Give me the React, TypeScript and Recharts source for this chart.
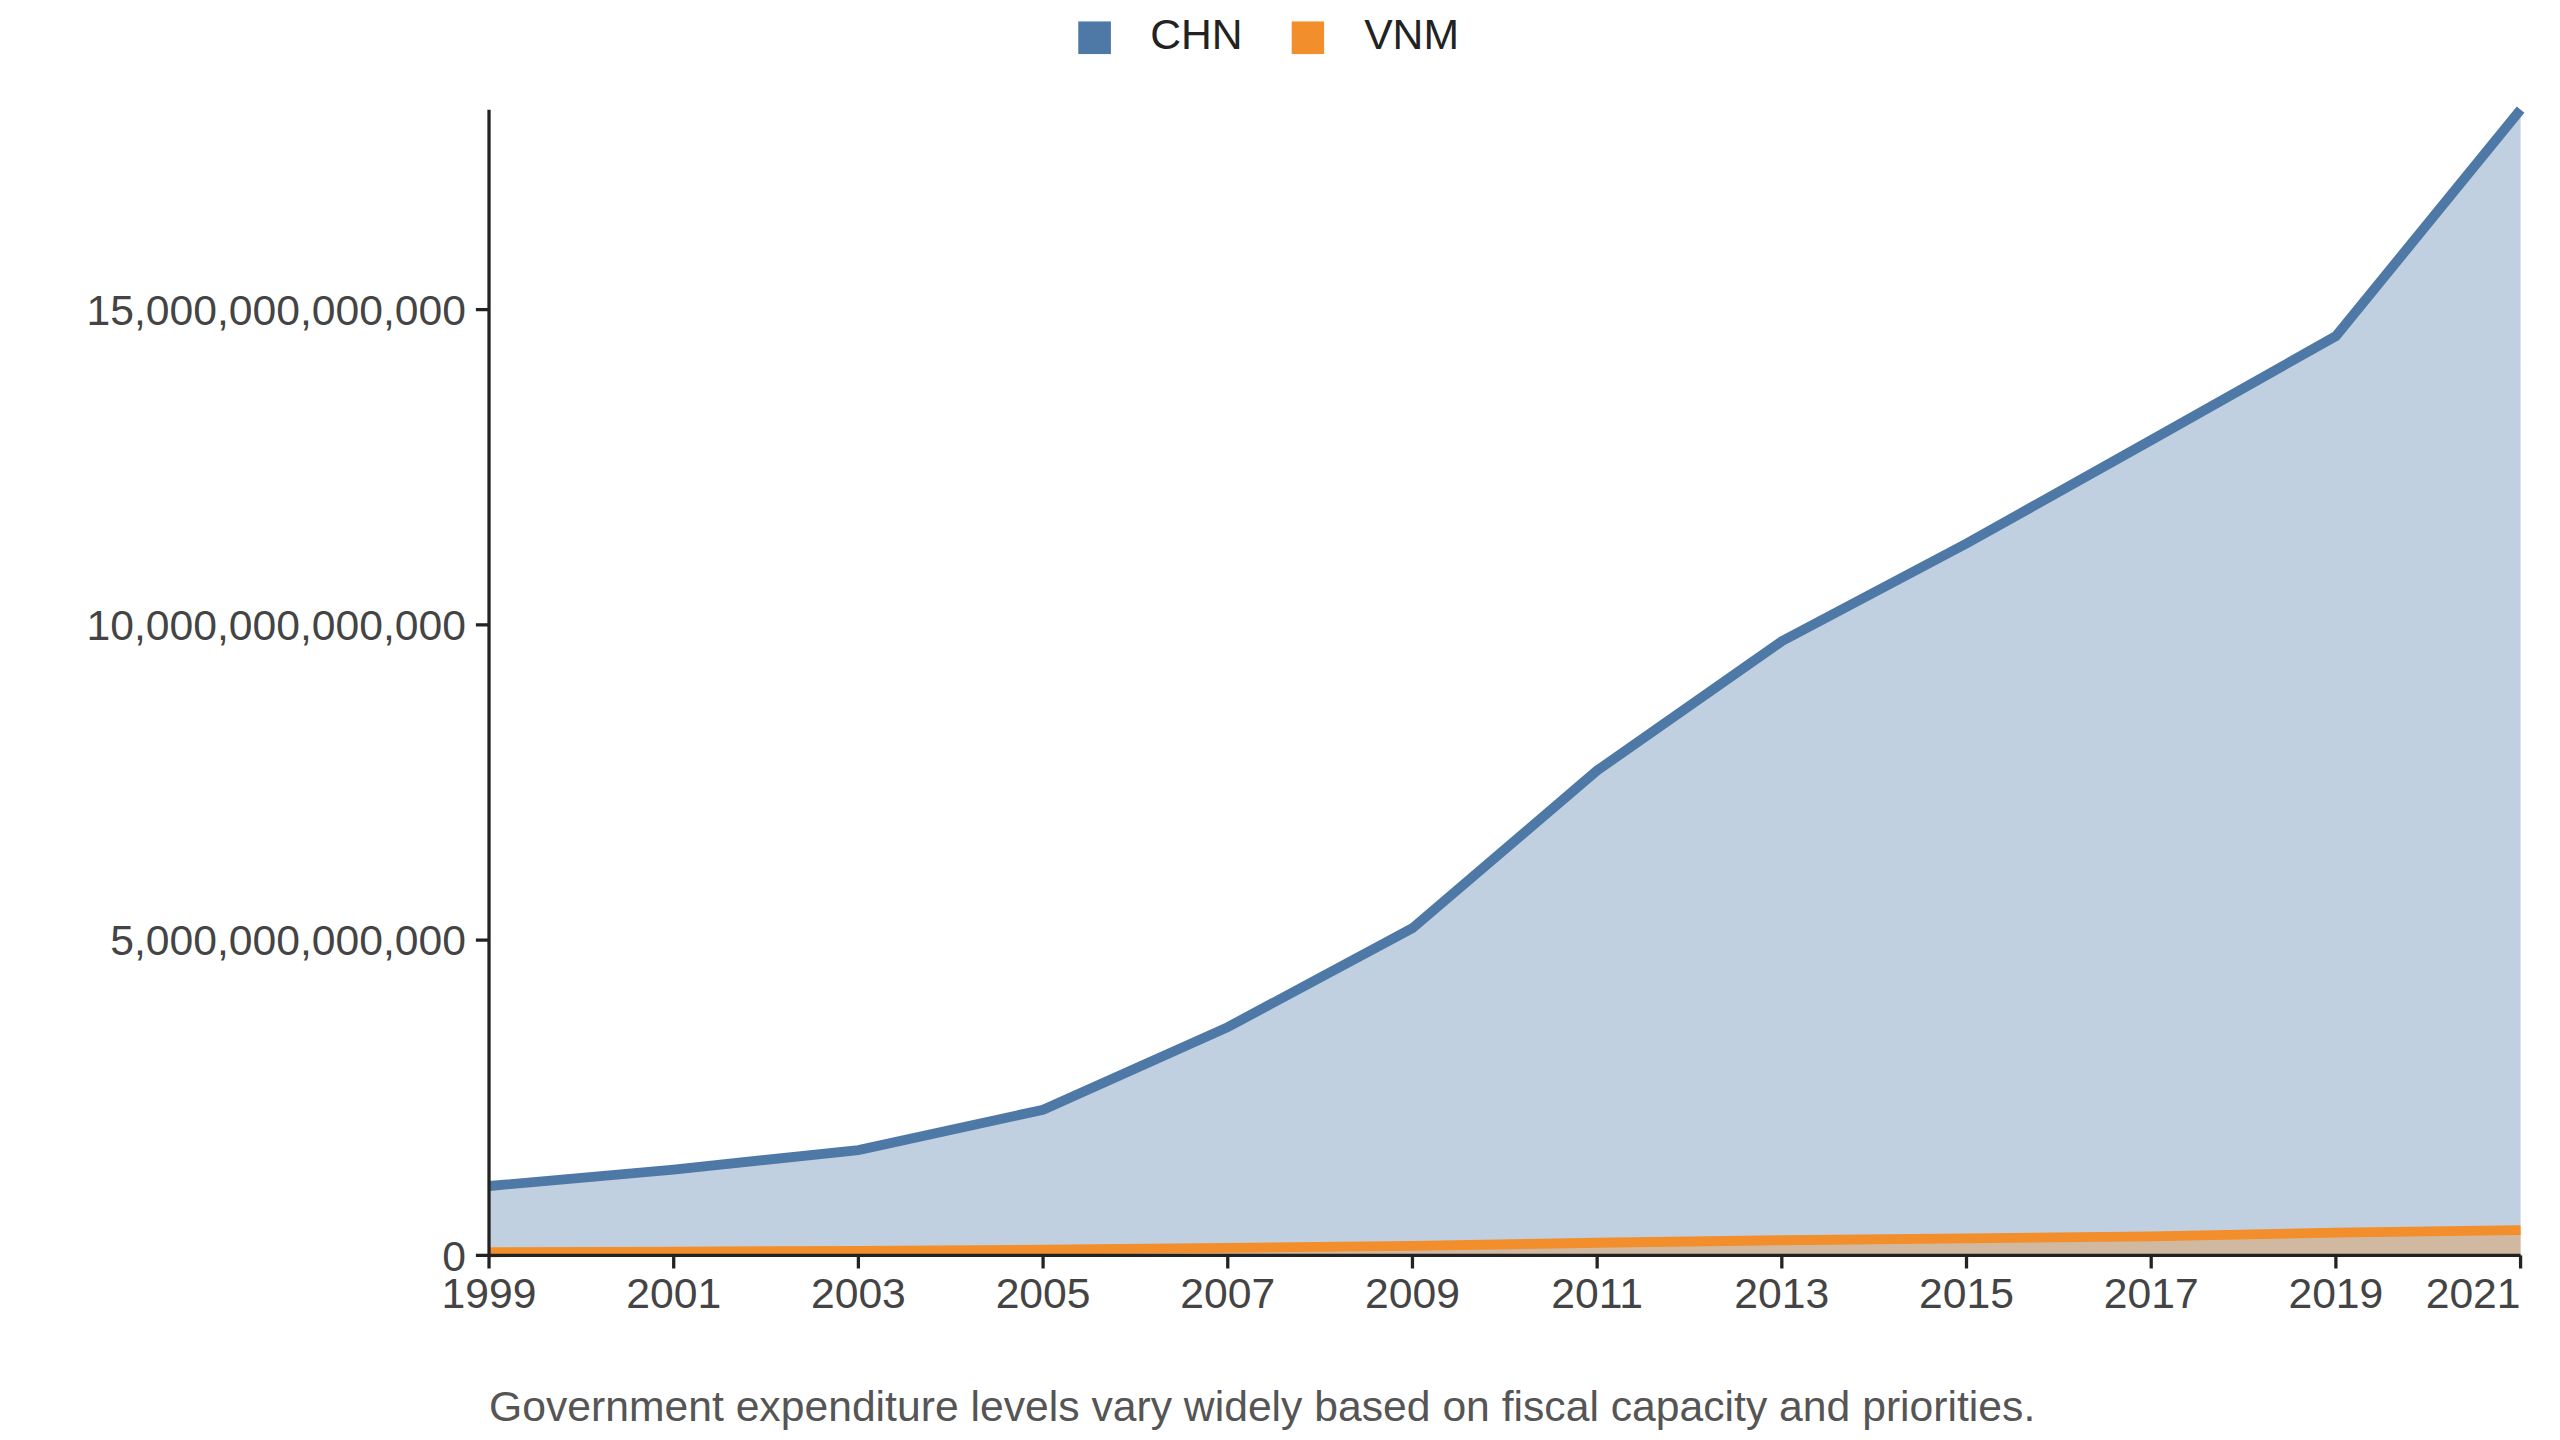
import { Area, AreaChart, Legend, XAxis, YAxis } from 'recharts';

const years = [1999, 2001, 2003, 2005, 2007, 2009, 2011, 2013, 2015, 2017, 2019, 2021];
const chn = [1.1, 1.36, 1.67, 2.31, 3.62, 5.19, 7.69, 9.74, 11.29, 12.93, 14.58, 18.17];
const vnm = [0.05, 0.06, 0.07, 0.09, 0.12, 0.15, 0.2, 0.24, 0.27, 0.3, 0.36, 0.4];
const yTicks = [0, 5e12, 10e12, 15e12];

const data = years.map((year, i) => ({ year, CHN: chn[i] * 1e12, VNM: vnm[i] * 1e12 }));

const font = '"Liberation Sans", Arial, sans-serif';
const fmt = (v: number) => v.toLocaleString('en-US');

// last tick label is right-aligned to the axis end
const YearTick = (props: any) => {
  const { x, y, payload } = props;
  const last = payload.value === years[years.length - 1];
  return (
    <text x={x} y={y + 22} textAnchor={last ? 'end' : 'middle'} fill="#444" fontSize={26} fontFamily={font}>
      {payload.value}
    </text>
  );
};

const App = () => (
  <div
    style={{
      position: 'absolute',
      left: 0,
      top: 0,
      width: 1560,
      height: 878,
      transform: 'scale(1.641)',
      transformOrigin: '0 0',
      background: '#fff',
      fontFamily: font,
    }}
  >
    <AreaChart width={1560} height={830} data={data} margin={{ top: 16, right: 24, bottom: 25, left: 0 }}>
      <XAxis
        dataKey="year"
        type="number"
        domain={[1999, 2021]}
        ticks={years}
        interval={0}
        height={40}
        tick={<YearTick />}
        tickSize={8}
        stroke="#222"
        strokeWidth={2}
      />
      <YAxis
        domain={[0, 'dataMax']}
        ticks={yTicks}
        tickFormatter={fmt}
        width={298}
        tick={{ fill: '#444', fontSize: 26, fontFamily: font }}
        tickSize={8}
        tickMargin={6}
        stroke="#222"
        strokeWidth={2}
      />
      <Legend
        verticalAlign="top"
        align="center"
        iconType="square"
        iconSize={20}
        wrapperStyle={{ top: 6, left: 20, fontSize: 26, fontFamily: font }}
        formatter={(v) => <span style={{ color: '#222', marginLeft: 20, marginRight: 20 }}>{v}</span>}
      />
      <Area type="linear" dataKey="CHN" stroke="#4e79a7" strokeWidth={6} fill="#4e79a7" fillOpacity={0.35} isAnimationActive={false} />
      <Area type="linear" dataKey="VNM" stroke="#f28e2b" strokeWidth={6} fill="#f28e2b" fillOpacity={0.35} isAnimationActive={false} />
    </AreaChart>
    <div style={{ position: 'absolute', left: 298, top: 842, fontSize: 26, color: '#555' }}>
      Government expenditure levels vary widely based on fiscal capacity and priorities.
    </div>
  </div>
);

export default App;
